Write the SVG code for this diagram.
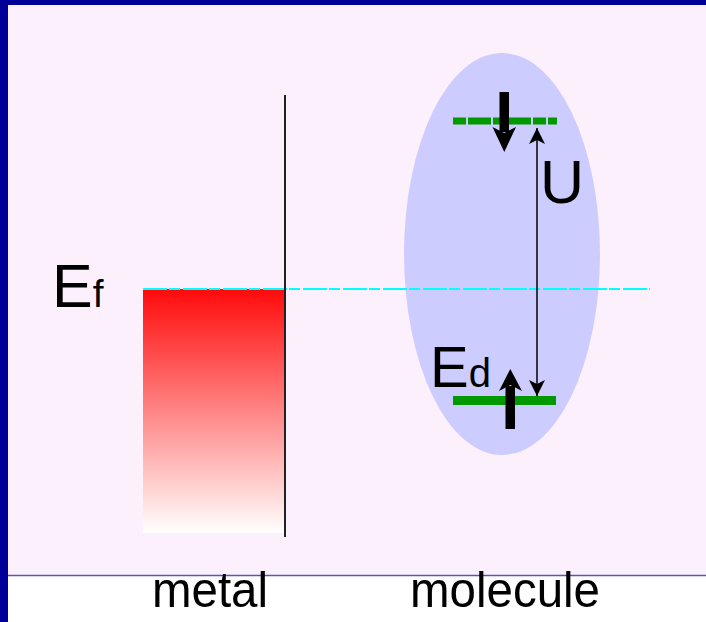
<svg xmlns="http://www.w3.org/2000/svg" width="706" height="622" viewBox="0 0 706 622">
  <style>
    .t { font-family: "Liberation Sans", Arial, sans-serif; fill: #000; }
    .green { fill: #009900; }
    .spin { fill: #000; }
  </style>
  <defs>
    <linearGradient id="redfade" x1="0" y1="0" x2="0" y2="1">
      <stop offset="0" stop-color="#FF0A0A"/>
      <stop offset="1" stop-color="#FFFFFF"/>
    </linearGradient>
    <marker id="ah" viewBox="0 0 16 18" refX="16" refY="9" markerWidth="16" markerHeight="18" markerUnits="userSpaceOnUse" orient="auto">
      <path d="M0,1 L16,9 L0,17 L4,9 Z" fill="#000"/>
    </marker>
  </defs>

  <!-- background and frame -->
  <rect x="0" y="0" width="706" height="622" fill="#FFFFFF"/>
  <rect x="0" y="0" width="706" height="575" fill="#FDF0FD"/>
  <line x1="8" y1="575.5" x2="706" y2="575.5" stroke="#5555BB" stroke-width="1.5"/>
  <rect x="0" y="0" width="706" height="5" fill="#000099"/>
  <rect x="0" y="0" width="8" height="622" fill="#000099"/>

  <!-- molecule ellipse -->
  <g id="molecule">
    <ellipse cx="502" cy="254" rx="98" ry="201" fill="#CCCCFF"/>
    <!-- upper level (dashed) -->
    <g id="upper-level" class="green">
      <rect x="453" y="117.5" width="13" height="7"/>
      <rect x="468" y="117.5" width="23" height="7"/>
      <rect x="493" y="117.5" width="38" height="7"/>
      <rect x="533" y="117.5" width="13" height="7"/>
      <rect x="548" y="117.5" width="9" height="7"/>
    </g>
    <!-- lower level Ed -->
    <rect id="lower-level" class="green" x="453" y="396" width="103" height="9"/>
  </g>

  <!-- metal -->
  <g id="metal">
    <rect x="143" y="289" width="141" height="244" fill="url(#redfade)"/>
  </g>

  <!-- connectors -->
  <g id="connectors">
    <line id="fermi-line" x1="143" y1="289" x2="650" y2="289" stroke="#00FFFF" stroke-width="2" stroke-dasharray="24 2 11 3"/>
    <line id="interface" x1="285" y1="95" x2="285" y2="537" stroke="#222222" stroke-width="2"/>
    <line id="U-arrow" x1="537" y1="262" x2="537" y2="128" stroke="#000" stroke-width="1.5" marker-end="url(#ah)"/>
    <line id="U-arrow-down" x1="537" y1="262" x2="537" y2="396" stroke="#000" stroke-width="1.5" marker-end="url(#ah)"/>
  </g>

  <!-- spins -->
  <g id="spin-down" class="spin">
    <rect x="499.5" y="92" width="9.5" height="40"/>
    <path d="M492.5,127 L504.3,133 L516,127 L504.3,152 Z"/>
  </g>
  <g id="spin-up" class="spin">
    <rect x="505.5" y="386" width="9.5" height="43"/>
    <path d="M499,391 L510.3,385 L522,391 L510.3,369 Z"/>
  </g>

  <!-- labels -->
  <g id="label-Ef">
    <text class="t" x="52" y="307" font-size="61">E<tspan font-size="39">f</tspan></text>
  </g>
  <g id="label-Ed">
    <text class="t" x="430" y="387" font-size="58">E<tspan font-size="40">d</tspan></text>
  </g>
  <g id="label-U">
    <text class="t" x="540" y="203" font-size="61">U</text>
  </g>
  <g id="label-metal">
    <text class="t" x="152" y="607" font-size="50" textLength="116" lengthAdjust="spacingAndGlyphs">metal</text>
  </g>
  <g id="label-molecule">
    <text class="t" x="410" y="607" font-size="50" textLength="190" lengthAdjust="spacingAndGlyphs">molecule</text>
  </g>
</svg>
